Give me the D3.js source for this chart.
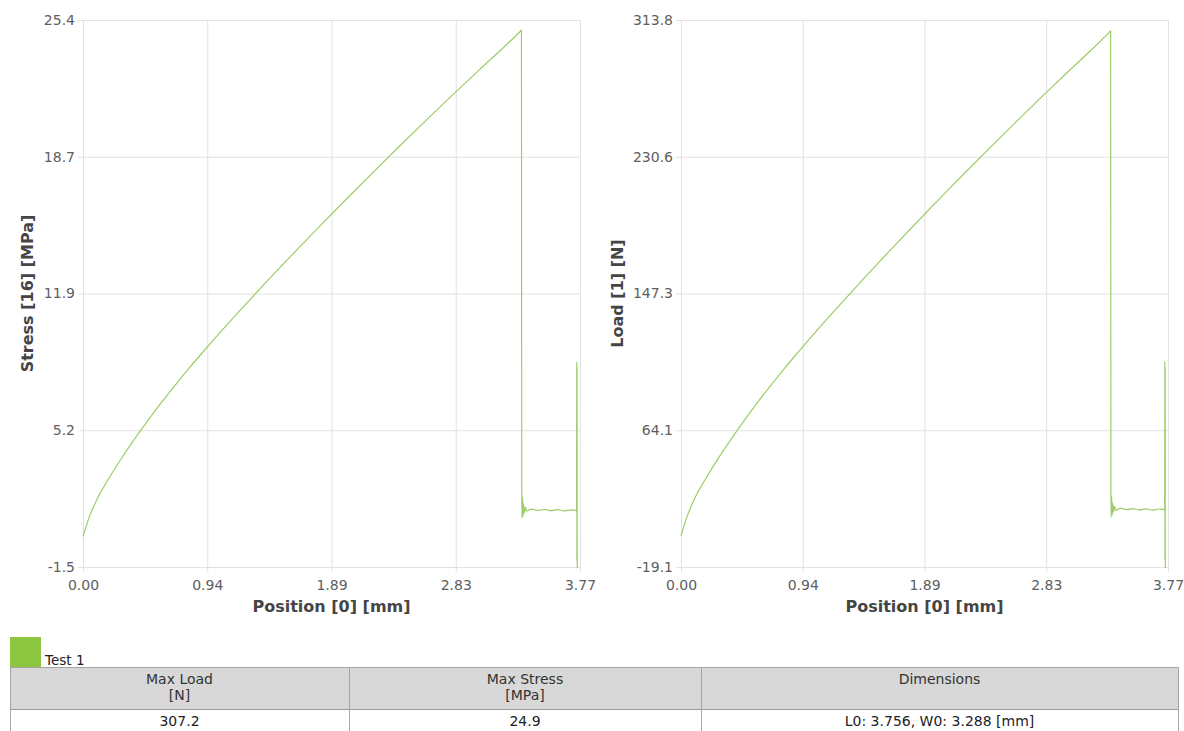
<!DOCTYPE html>
<html>
<head>
<meta charset="utf-8">
<script src="https://cdn.jsdelivr.net/npm/d3@7"></script>
<style>
  html, body { margin: 0; padding: 0; background: #fff; overflow: hidden; }
  svg { display: block; }
</style>
</head>
<body>
<svg id="chart" width="1184" height="731"></svg>
<script>
// Tensile test, Test 1: crosshead position against stress and load.
const position = [
  0.00, 0.05, 0.10, 0.20, 0.30, 0.40, 0.50, 0.60, 0.70, 0.80, 0.90, 1.00,
  1.20, 1.40, 1.60, 1.80, 2.00, 2.20, 2.40, 2.60, 2.80, 3.00, 3.20, 3.320, 3.326,
  3.328, 3.330, 3.334, 3.338, 3.342, 3.348, 3.356, 3.366, 3.40, 3.45, 3.50,
  3.55, 3.60, 3.65, 3.70, 3.744, 3.7455, 3.7465, 3.7475, 3.7485, 3.7495
];
const stress = [
  0.00, 1.00, 1.75, 2.90, 3.92, 4.87, 5.77, 6.63, 7.45, 8.24, 9.00, 9.74,
  11.18, 12.58, 13.95, 15.29, 16.61, 17.91, 19.19, 20.45, 21.69, 22.91, 24.11, 24.86, 24.90,
  2.30, 0.90, 1.95, 1.00, 1.60, 1.15, 1.45, 1.25, 1.35, 1.28, 1.33,
  1.27, 1.32, 1.26, 1.31, 1.28, 8.60, -1.20, 8.30, -0.80, -1.70
];
const load = [
  0.0, 12.3, 21.6, 35.8, 48.4, 60.1, 71.2, 81.8, 91.9, 101.7, 111.0, 120.2,
  137.9, 155.2, 172.1, 188.6, 204.9, 221.0, 236.7, 252.3, 267.6, 282.6, 297.4, 306.7, 307.2,
  28.4, 11.1, 24.1, 12.3, 19.7, 14.2, 17.9, 15.4, 16.7, 15.8, 16.4,
  15.7, 16.3, 15.5, 16.2, 15.8, 106.1, -14.8, 102.4, -9.9, -21.0
];

const positionDomain = [0, 3.77];
const positionTickLabels = ["0.00", "0.94", "1.89", "2.83", "3.77"];
const stressDomain = [-1.5, 25.4];
const stressTickLabels = ["-1.5", "5.2", "11.9", "18.7", "25.4"];
const loadDomain = [-19.1, 313.8];
const loadTickLabels = ["-19.1", "64.1", "147.3", "230.6", "313.8"];

const testName = "Test 1";
const tableHeaders = [["Max Load", "[N]"], ["Max Stress", "[MPa]"], ["Dimensions"]];
const tableValues = ["307.2", "24.9", "L0: 3.756, W0: 3.288 [mm]"];

const GREEN = "#8dc63f";
const LINE = "#9dcc68";
const GRID = "#e2e2e2";
const FONT = "'DejaVu Sans', Verdana, sans-serif";

const svg = d3.select("#chart");

function evenTicks(domain, n) {
  return d3.range(n).map(i => domain[0] + i * (domain[1] - domain[0]) / (n - 1));
}

function panel(opts) {
  const { left, right, top, bottom, yDomain, yLabels, yValues, yTitle, titleX, id } = opts;
  const x = d3.scaleLinear().domain(positionDomain).range([left, right]);
  const y = d3.scaleLinear().domain(yDomain).range([bottom, top]);
  const g = svg.append("g");

  // Horizontal grid plus short outer ticks on the left
  const yAxis = d3.axisLeft(y)
    .tickValues(evenTicks(yDomain, yLabels.length))
    .tickFormat((d, i) => yLabels[i])
    .tickSizeInner(-(right - left + 5))
    .tickSizeOuter(0)
    .tickPadding(3);
  const ya = g.append("g").attr("transform", `translate(${left - 5},0)`).call(yAxis);
  ya.select(".domain").remove();
  ya.selectAll("line").attr("stroke", GRID);
  ya.selectAll("text").attr("fill", "#5e5e5e").attr("font-family", FONT).attr("font-size", 14);

  // Vertical grid plus short outer ticks below
  const xAxis = d3.axisBottom(x)
    .tickValues(evenTicks(positionDomain, positionTickLabels.length))
    .tickFormat((d, i) => positionTickLabels[i])
    .tickSizeInner(-(bottom - top + 5))
    .tickSizeOuter(0)
    .tickPadding(8);
  const xa = g.append("g").attr("transform", `translate(0,${bottom + 5})`).call(xAxis);
  xa.select(".domain").remove();
  xa.selectAll("line").attr("stroke", GRID);
  xa.selectAll("text").attr("fill", "#5e5e5e").attr("font-family", FONT).attr("font-size", 14);

  // Axis titles
  g.append("text")
    .attr("x", (left + right) / 2).attr("y", 612)
    .attr("text-anchor", "middle")
    .attr("font-family", FONT).attr("font-weight", "bold").attr("font-size", 16)
    .attr("fill", "#454545")
    .text("Position [0] [mm]");
  g.append("text")
    .attr("transform", `translate(${titleX},${(top + bottom) / 2}) rotate(-90)`)
    .attr("text-anchor", "middle")
    .attr("font-family", FONT).attr("font-weight", "bold").attr("font-size", 16)
    .attr("fill", "#454545")
    .text(yTitle);

  // Curve, clipped to the plot area
  svg.append("clipPath").attr("id", id)
    .append("rect").attr("x", left - 1).attr("y", top).attr("width", right - left + 2).attr("height", bottom - top + 1);
  const line = d3.line()
    .x(d => x(d[0]))
    .y(d => y(d[1]))
    .curve(d3.curveMonotoneX);
  g.append("path")
    .datum(position.map((p, i) => [p, yValues[i]]))
    .attr("clip-path", `url(#${id})`)
    .attr("fill", "none")
    .attr("stroke", LINE)
    .attr("stroke-width", 1.2)
    .attr("stroke-linejoin", "round")
    .attr("d", line);
}

panel({ id: "clipStress", left: 83, right: 580, top: 20, bottom: 567,
        yDomain: stressDomain, yLabels: stressTickLabels, yValues: stress,
        yTitle: "Stress [16] [MPa]", titleX: 33 });
panel({ id: "clipLoad", left: 681, right: 1168, top: 20, bottom: 567,
        yDomain: loadDomain, yLabels: loadTickLabels, yValues: load,
        yTitle: "Load [1] [N]", titleX: 623 });

// Legend swatch
svg.append("rect").attr("x", 10).attr("y", 637).attr("width", 31).attr("height", 30).attr("fill", GREEN);
svg.append("text").attr("x", 45).attr("y", 665)
  .attr("font-family", FONT).attr("font-size", 13.5).attr("fill", "#222")
  .text(testName);

// Results table
const colEdges = [10, 349, 701, 1178];
const headTop = 667, headBottom = 709, rowBottom = 735;
const table = svg.append("g");
table.append("rect").attr("x", colEdges[0]).attr("y", headTop)
  .attr("width", colEdges[3] - colEdges[0]).attr("height", headBottom - headTop)
  .attr("fill", "#d8d8d8");
table.append("rect").attr("x", colEdges[0] + 0.5).attr("y", headTop + 0.5)
  .attr("width", colEdges[3] - colEdges[0]).attr("height", rowBottom - headTop)
  .attr("fill", "none").attr("stroke", "#a4a4a4");
table.append("line").attr("x1", colEdges[0]).attr("x2", colEdges[3])
  .attr("y1", headBottom + 0.5).attr("y2", headBottom + 0.5).attr("stroke", "#9a9a9a");
colEdges.slice(1, 3).forEach(cx => {
  table.append("line").attr("x1", cx + 0.5).attr("x2", cx + 0.5)
    .attr("y1", headTop).attr("y2", rowBottom).attr("stroke", "#a4a4a4");
});
tableHeaders.forEach((lines, i) => {
  const cx = (colEdges[i] + colEdges[i + 1]) / 2;
  lines.forEach((t, j) => {
    table.append("text").attr("x", cx).attr("y", 684 + j * 16)
      .attr("text-anchor", "middle")
      .attr("font-family", FONT).attr("font-size", 14).attr("fill", "#333")
      .text(t);
  });
  table.append("text").attr("x", cx).attr("y", 726)
    .attr("text-anchor", "middle")
    .attr("font-family", FONT).attr("font-size", 14).attr("fill", "#222")
    .text(tableValues[i]);
});
</script>
</body>
</html>
